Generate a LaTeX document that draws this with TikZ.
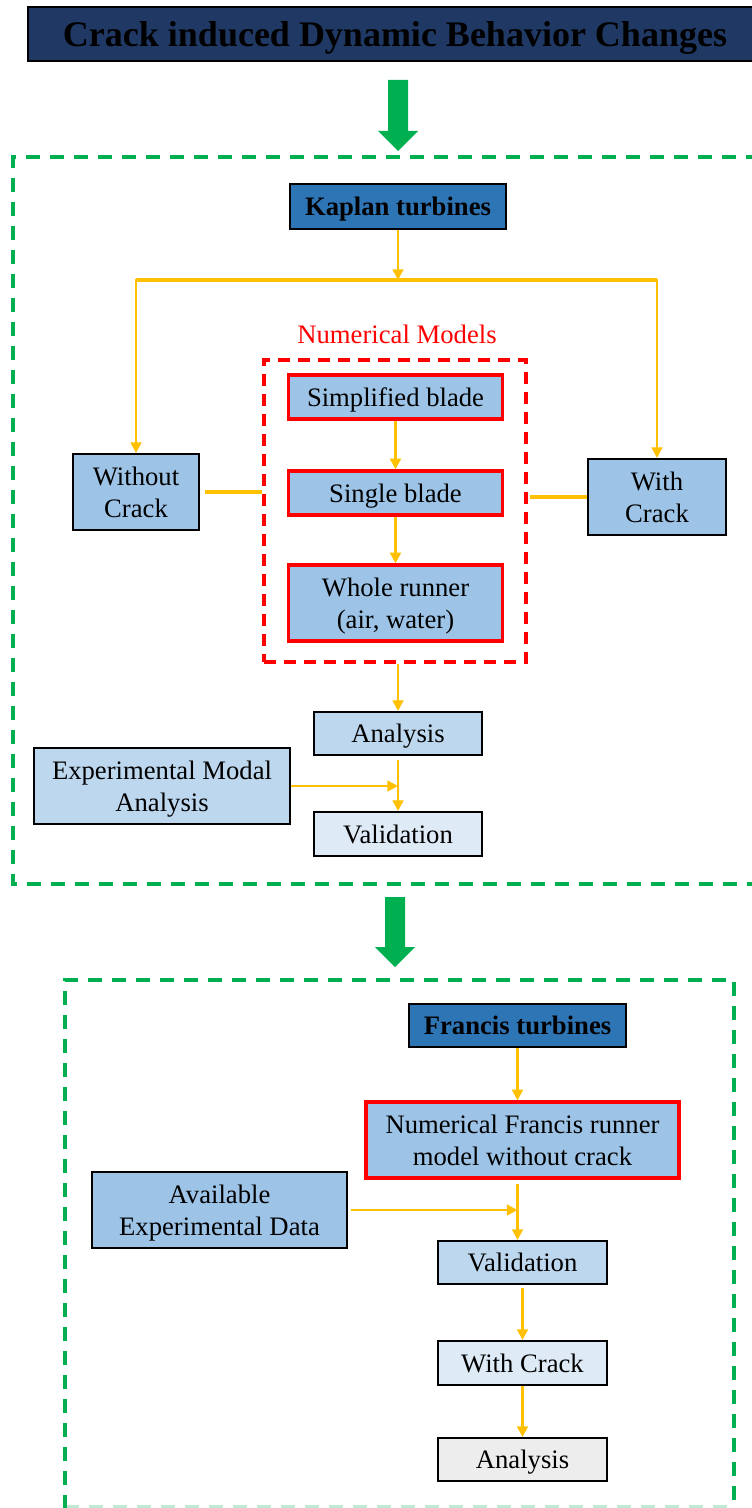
\documentclass[tikz,border=0pt]{standalone}
\usepackage{fontspec}
\setmainfont{Liberation Serif}
\usetikzlibrary{arrows.meta}
\definecolor{navyband}{RGB}{32,56,100}
\definecolor{turbblue}{RGB}{46,117,182}
\definecolor{midblue}{RGB}{157,195,230}
\definecolor{lightblue}{RGB}{189,215,238}
\definecolor{paleblue}{RGB}{222,235,247}
\definecolor{lightgrey}{RGB}{237,237,237}
\definecolor{gold}{RGB}{255,192,0}
\definecolor{flowgreen}{RGB}{0,176,80}
\tikzset{
  blk/.style={draw=black,line width=1.5pt,inner sep=2pt,text depth=0pt,align=center,font=\fontsize{20}{24}\selectfont},
  redblk/.style={blk,draw=red,line width=2.4pt},
  yarrow/.style={draw=gold,line width=2.2pt,-{Triangle[length=8pt,width=8pt]}},
  yline/.style={draw=gold,line width=2.6pt},
  greengroup/.style={draw=flowgreen,line width=2.4pt,dash pattern=on 10.5pt off 7.5pt},
  redgroup/.style={draw=red,line width=2.5pt,dash pattern=on 9pt off 6pt},
  bigarrow/.style={fill=flowgreen,draw=none}
}
\begin{document}
\begin{tikzpicture}[x=0.75pt,y=0.75pt,yscale=-1,xscale=1]
\useasboundingbox (0,0) rectangle (751,1508);
% title band
\node[blk,fill=navyband,minimum width=550.5pt,minimum height=40.5pt,font=\fontsize{27}{30}\selectfont\bfseries] (title) at (395,34) {Crack induced Dynamic Behavior Changes};
% green block arrows
\fill[bigarrow] (388,80) -- (408,80) -- (408,131) -- (418,131) -- (398,151) -- (378,131) -- (388,131) -- cycle;
\fill[bigarrow] (385,897) -- (405,897) -- (405,947) -- (415,947) -- (395,967) -- (375,947) -- (385,947) -- cycle;
% group frames
\draw[greengroup] (760,157) -- (13,157) -- (13,884) -- (760,884);
\draw[greengroup] (65,1509) -- (65,980) -- (734,980) -- (734,1509);
\draw[greengroup,draw opacity=0.25] (65,1507) -- (734,1507);

%% Kaplan part
\node[blk,fill=turbblue,minimum width=162pt,minimum height=33.75pt,font=\fontsize{20}{24}\selectfont\bfseries] (kaplan) at (398,206.5) {Kaplan turbines};
\coordinate (split) at (398,280);
\node[text=red,font=\fontsize{20}{24}\selectfont] (nummodlbl) at (397,334) {Numerical Models};
\node[redgroup,minimum width=196.5pt,minimum height=226.5pt] (nummod) at (395,511) {};
\node[redblk,fill=midblue,minimum width=160pt,minimum height=33pt] (simp) at (395.5,397) {Simplified blade};
\node[redblk,fill=midblue,minimum width=160pt,minimum height=33pt] (single) at (395.5,493) {Single blade};
\node[redblk,fill=midblue,minimum width=160pt,minimum height=57pt] (whole) at (395.5,603) {Whole runner\\(air, water)};
\node[blk,fill=midblue,minimum width=94.5pt,minimum height=57pt] (without) at (136,492) {Without\\Crack};
\node[blk,fill=midblue,minimum width=103.5pt,minimum height=57pt] (with) at (657,497) {With\\Crack};
\node[blk,fill=lightblue,minimum width=126pt,minimum height=32.25pt] (ana1) at (398,733.5) {Analysis};
\node[blk,fill=lightblue,minimum width=192pt,minimum height=57pt] (ema) at (162,786) {Experimental Modal\\Analysis};
\node[blk,fill=paleblue,minimum width=126pt,minimum height=33pt] (val1) at (398,834) {Validation};

\draw[yarrow] (kaplan.south) -- (split);
\draw[yline] (without.north |- split) -- (with.north |- split);
\draw[yarrow] (split) -| (without.north);
\draw[yarrow] (split) -| (with.north);
\draw[yline,shorten <=4pt] (without.east) -- (without.east -| nummod.west);
\draw[yline,shorten >=1.5pt] (with.west) -- (with.west -| nummod.east);
\draw[yarrow] (simp) -- (single);
\draw[yarrow] (single) -- (whole);
\draw[yarrow] (nummod.south -| ana1.north) -- (ana1.north);
\draw[yarrow,shorten <=3pt] (ana1.south) -- (val1.north);
\draw[yarrow] (ema.east) -- (ema.east -| val1.north);

%% Francis part
\node[blk,fill=turbblue,minimum width=162.75pt,minimum height=32.25pt,font=\fontsize{20}{24}\selectfont\bfseries] (francis) at (517.5,1025.5) {Francis turbines};
\node[redblk,fill=midblue,minimum width=234.75pt,minimum height=57pt] (nfr) at (522.5,1140) {Numerical Francis runner\\model without crack};
\node[blk,fill=midblue,minimum width=191.25pt,minimum height=57pt] (aed) at (219.5,1210) {Available\\Experimental Data};
\node[blk,fill=lightblue,minimum width=126.75pt,minimum height=32.25pt] (val2) at (522.5,1262.5) {Validation};
\node[blk,fill=paleblue,minimum width=126.75pt,minimum height=33pt] (wc2) at (522.5,1363) {With Crack};
\node[blk,fill=lightgrey,minimum width=126.75pt,minimum height=32.25pt] (ana2) at (522.5,1459.5) {Analysis};

\draw[yarrow] (francis.south) -- (francis.south |- nfr.north);
\draw[yarrow,shorten <=3pt] (nfr.south -| francis.south) -- (val2.north -| francis.south);
\draw[yarrow,shorten <=2pt] (aed.east) -- (aed.east -| francis.south);
\draw[yarrow,shorten <=2pt] (val2.south) -- (wc2.north);
\draw[yarrow] (wc2.south) -- (ana2.north);
\end{tikzpicture}
\end{document}
